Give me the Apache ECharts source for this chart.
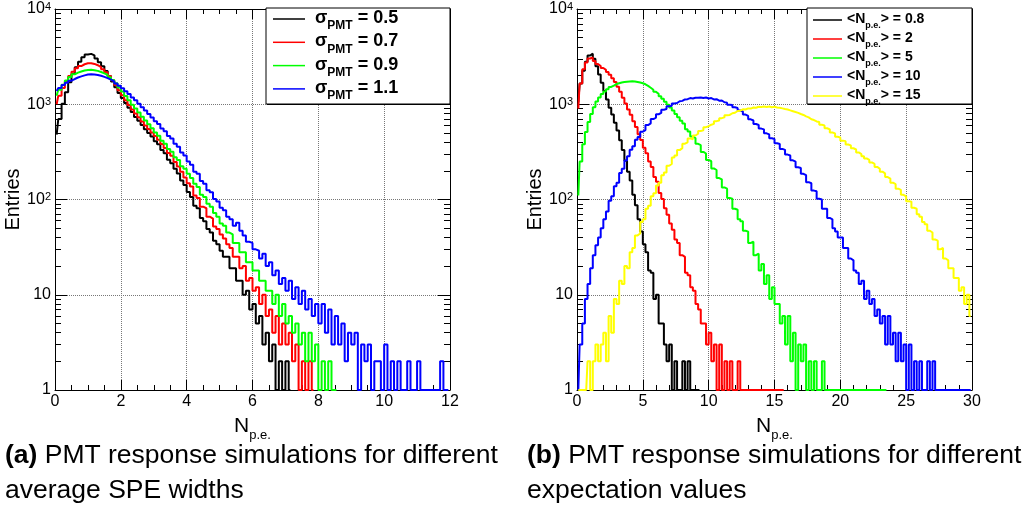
<!DOCTYPE html>
<html><head><meta charset="utf-8">
<script src="https://cdn.jsdelivr.net/npm/echarts@6/dist/echarts.min.js"></script>
<style>html,body{margin:0;padding:0;background:#fff}#c{width:1025px;height:520px}</style>
</head><body><div id="c"></div><script>
// ---------------- DATA ----------------
const LEFT_BIN = 0.1;   // N_p.e. bin width, left panel
const RIGHT_BIN = 0.2;  // N_p.e. bin width, right panel
const LEFT_NAMES = ['σPMT = 0.5', 'σPMT = 0.7', 'σPMT = 0.9', 'σPMT = 1.1'];
const RIGHT_NAMES = ['<Np.e.> = 0.8', '<Np.e.> = 2', '<Np.e.> = 5', '<Np.e.> = 10', '<Np.e.> = 15'];
const Y_MINOR = [2,3,4,5,6,7,8,9,20,30,40,50,60,70,80,90,200,300,400,500,600,700,800,900,2000,3000,4000,5000,6000,7000,8000,9000];

const sigma05 = [480,700,1010,1340,1700,2080,2450,2800,3120,3330,
 3380,3260,3020,2760,2500,2240,1980,1730,1510,1310,
 1160,1030,920,830,735,670,605,548,500,458,
 410,380,330,305,262,240,210,188,158,142,
 120,106,86,81,64,59,49,45,37,34,
 29,25,25,19,19,14,14,10,11,7,
 8,5,6,3,4,2,3,1,2,1,
 2,1];
const sigma07 = [1000,1230,1480,1730,1980,2200,2390,2520,2630,2690,
 2700,2650,2570,2460,2330,2170,1980,1790,1590,1400,
 1240,1100,985,880,800,730,660,600,550,505,
 465,425,382,348,308,288,248,222,196,170,
 148,137,110,104,84,81,66,63,52,49,
 43,39,34,31,25,25,19,20,14,15,
 11,12,8,10,6,7,4,6,3,5,
 3,4,2,3,1,2,1,2,1];
const sigma09 = [1230,1420,1600,1780,1930,2060,2150,2210,2260,2290,
 2300,2280,2240,2180,2110,2030,1920,1800,1660,1500,
 1360,1220,1100,990,900,820,740,675,615,560,
 505,468,415,386,340,318,278,260,224,210,
 186,168,146,135,112,106,90,84,72,66,
 56,53,45,43,35,35,28,28,22,22,
 18,18,14,14,11,11,8,10,6,8,
 5,6,4,5,3,4,2,4,2,3,
 1,2,1,2,1,1];
const sigma11 = [1380,1480,1590,1680,1770,1840,1910,1960,2010,2050,
 2060,2050,2030,1990,1940,1880,1810,1740,1650,1560,
 1470,1370,1280,1180,1100,1010,930,860,790,725,
 665,622,556,522,464,438,386,358,312,290,
 250,232,196,186,156,146,125,119,101,95,
 82,77,66,62,53,57,47,42,36,35,
 30,29,24,27,20,22,16,18,13,15,
 11,14,9,12,8,11,7,9,6,8,
 5,8,4,7,3,6,3,5,2,4,
 3,4,1,3,2,3,1,2,2,1,
 3,1,2,1,2,1,1,2,1,1,
 2,1,1,1,1,1,1,2,1,1];

const mean08 = [1050,1650,2250,2800,3250,3400,3000,2500,2050,1680,
 1380,1120,920,780,640,530,420,330,255,195,
 158,112,87,62,46,34,28,18,17,9,
 10,5,5,3,2,3,1,2,1,1,
 2,1,2,1,1,1,1];
const mean2 = [900,1650,2330,2750,3020,3100,2850,2640,2520,2400,
 2300,2180,2040,1880,1710,1530,1350,1170,1020,880,
 775,665,578,485,422,350,306,250,220,172,
 154,117,101,81,69,56,48,38,35,26,
 25,17,16,12,11,8,7,5,5,3,
 4,2,3,1,3,1,2,1,2,1,
 1,2,1,1,1,1,1,1,1,1,
 1,1,1,1,1,1,1,1,1];
const mean5 = [110,250,380,510,650,790,930,1070,1180,1280,
 1360,1440,1520,1570,1630,1660,1690,1710,1720,1730,
 1740,1730,1710,1690,1660,1620,1560,1490,1420,1350,
 1290,1210,1140,1060,990,925,860,790,730,670,
 628,548,518,458,442,384,372,316,304,260,
 252,212,204,168,163,134,130,104,102,80,
 78,62,59,47,46,35,36,26,27,18,
 21,13,16,9,12,8,8,5,6,3,
 6,2,4,1,3,2,3,1,2,1,
 2,1,1,2,1,1,1,1,1,1,
 1,1,1,1,1,1,1,1,1,1,
 1,1,1,1,1,1,1,1];
const mean10 = [1,3,5,9,13,19,26,33,40,50,
 62,75,97,108,138,150,190,210,256,284,
 332,362,424,452,515,535,605,630,700,725,
 785,810,875,890,950,965,1020,1030,1075,1085,
 1125,1130,1160,1150,1172,1168,1180,1162,1176,1150,
 1160,1125,1130,1090,1095,1050,1040,990,980,930,
 915,860,840,780,755,695,675,620,605,555,
 545,495,482,440,432,390,382,340,332,296,
 290,258,250,218,214,186,180,152,148,124,
 122,102,100,80,80,64,62,50,46,40,
 40,31,31,24,23,18,17,13,14,9,
 11,8,9,6,7,5,6,3,6,3,
 4,2,4,2,3,1,3,1,2,1,
 2,1,1,2,1,2,1,1,1,1,
 1,1,1,1,1,1,1,1,1,1];
const mean15 = [1,1,1,1,2,1,2,3,2,3,
 4,2,6,4,9,8,14,13,20,19,
 28,31,42,44,58,62,80,86,108,116,
 140,150,180,192,226,236,276,290,330,346,
 385,398,438,428,470,490,525,532,575,588,
 610,622,665,675,715,728,765,772,805,815,
 850,855,885,880,905,900,925,918,940,935,
 945,938,948,932,940,925,918,905,892,880,
 862,845,828,812,790,772,745,728,695,682,
 660,650,610,600,560,545,505,495,455,448,
 415,410,378,370,345,335,312,300,285,270,
 260,245,236,220,210,196,188,172,166,150,
 145,130,126,112,108,96,95,82,80,70,
 66,58,55,47,45,38,37,30,31,24,
 23,19,19,15,15,11,12,8,10,6];

const LEFT_SERIES = [sigma05, sigma07, sigma09, sigma11];
const RIGHT_SERIES = [mean08, mean2, mean5, mean10, mean15];
const LEFT_COLORS = ['#000000', '#ff0000', '#00ff00', '#0000ff'];
const RIGHT_COLORS = ['#000000', '#ff0000', '#00ff00', '#0000ff', '#ffff00'];

// ---------------- CHART ----------------
const FONT = "'Liberation Sans', Arial, Helvetica, sans-serif";
function pairs(vals, bin) { return vals.map((v, i) => [+((i + 0.5) * bin).toFixed(3), v]); }
function logLabel(v) {
  if (v === 1) return '1';
  if (v === 10) return '10';
  return '10{sup|' + Math.round(Math.log10(v)) + '}';
}
const blackLine = { color: '#000', width: 1 };

function xAxes(g, max, interval, minorSplit) {
  const common = { gridIndex: g, type: 'value', min: 0, max: max, interval: interval };
  return [
    Object.assign({}, common, {
      position: 'bottom',
      axisLine: { show: true, onZero: false, lineStyle: blackLine },
      axisTick: { show: true, inside: true, length: 10, lineStyle: blackLine },
      minorTick: { show: true, splitNumber: minorSplit, length: 5, lineStyle: blackLine },
      axisLabel: { fontSize: 16, fontFamily: FONT, color: '#000', margin: 4 },
      splitLine: { show: true, lineStyle: { type: 'dotted', color: '#777', width: 1 } },
      name: '{n|N}{s|p.e.}', nameLocation: 'middle', nameGap: 26,
      nameTextStyle: { rich: {
        n: { fontSize: 21, fontFamily: FONT, color: '#000', lineHeight: 22, verticalAlign: 'top' },
        s: { fontSize: 13, fontFamily: FONT, color: '#000', lineHeight: 13, verticalAlign: 'top', padding: [13, 0, 0, 0] }
      } }
    }),
    Object.assign({}, common, {
      position: 'top',
      axisLine: { show: true, onZero: false, lineStyle: blackLine },
      axisTick: { show: true, inside: true, length: 10, lineStyle: blackLine },
      minorTick: { show: true, splitNumber: minorSplit, length: 5, lineStyle: blackLine },
      axisLabel: { show: false }, splitLine: { show: false }
    })
  ];
}
function yAxes(g) {
  const common = { gridIndex: g, type: 'log', logBase: 10, min: 1, max: 10000 };
  return [
    Object.assign({}, common, {
      position: 'left',
      axisLine: { show: true, onZero: false, lineStyle: blackLine },
      axisTick: { show: true, inside: true, length: 12, lineStyle: blackLine },
      axisLabel: { formatter: logLabel, fontSize: 16, fontFamily: FONT, color: '#000', margin: 4,
        rich: { sup: { fontSize: 11, fontFamily: FONT, color: '#000', lineHeight: 11, verticalAlign: 'top' } } },
      splitLine: { show: true, lineStyle: { type: 'dotted', color: '#777', width: 1 } },
      name: 'Entries', nameLocation: 'middle', nameGap: 20,
      nameTextStyle: { fontSize: 20, fontFamily: FONT, color: '#000' }
    }),
    Object.assign({}, common, {
      position: 'left', axisLine: { show: false, onZero: false },
      axisTick: { show: true, inside: true, length: 6, customValues: Y_MINOR, lineStyle: blackLine },
      axisLabel: { show: false }, splitLine: { show: false }
    }),
    Object.assign({}, common, {
      position: 'right', axisLine: { show: true, onZero: false, lineStyle: blackLine },
      axisTick: { show: true, inside: true, length: 12, lineStyle: blackLine },
      axisLabel: { show: false }, splitLine: { show: false }
    }),
    Object.assign({}, common, {
      position: 'right', axisLine: { show: false, onZero: false },
      axisTick: { show: true, inside: true, length: 6, customValues: Y_MINOR, lineStyle: blackLine },
      axisLabel: { show: false }, splitLine: { show: false }
    })
  ];
}

const series = [];
LEFT_SERIES.forEach((vals, i) => series.push({
  name: LEFT_NAMES[i], type: 'line', xAxisIndex: 0, yAxisIndex: 0,
  data: pairs(vals, LEFT_BIN), step: 'middle', symbol: 'none', showSymbol: false,
  lineStyle: { color: LEFT_COLORS[i], width: 2 }, itemStyle: { color: LEFT_COLORS[i] },
  clip: true, animation: false
}));
RIGHT_SERIES.forEach((vals, i) => series.push({
  name: RIGHT_NAMES[i], type: 'line', xAxisIndex: 2, yAxisIndex: 4,
  data: pairs(vals, RIGHT_BIN), step: 'middle', symbol: 'none', showSymbol: false,
  lineStyle: { color: RIGHT_COLORS[i], width: 2 }, itemStyle: { color: RIGHT_COLORS[i] },
  clip: true, animation: false
}));

const option = {
  backgroundColor: '#fff',
  animation: false,
  grid: [
    { left: 55, top: 9, width: 395, height: 381, containLabel: false },
    { left: 577, top: 9, width: 395, height: 381, containLabel: false }
  ],
  xAxis: [].concat(xAxes(0, 12, 2, 4), xAxes(1, 30, 5, 5)),
  yAxis: [].concat(yAxes(0), yAxes(1)),
  legend: [
    {
      data: LEFT_NAMES, orient: 'vertical', left: 273, top: 9, padding: 0,
      icon: 'rect', itemWidth: 32, itemHeight: 1.5, itemGap: 0.3, selectedMode: false,
      formatter: n => '{f|σ}{s|PMT}{m|' + n.slice(4) + '}',
      textStyle: { rich: {
        f: { fontSize: 18, fontWeight: 'bold', fontFamily: FONT, color: '#000', lineHeight: 20, verticalAlign: 'top', padding: [0, 0, 0, 5] },
        s: { fontSize: 12, fontWeight: 'bold', fontFamily: FONT, color: '#000', lineHeight: 12, verticalAlign: 'top', padding: [11, 0, 0, 0] },
        m: { fontSize: 18, fontWeight: 'bold', fontFamily: FONT, color: '#000', lineHeight: 20, verticalAlign: 'top' }
      } }
    },
    {
      data: RIGHT_NAMES, orient: 'vertical', left: 813, top: 12, padding: 0,
      icon: 'rect', itemWidth: 29, itemHeight: 1.5, itemGap: 1, selectedMode: false,
      formatter: n => '{m|<N}{s|p.e.}{m|' + n.slice(6) + '}',
      textStyle: { rich: {
        s: { fontSize: 9, fontWeight: 'bold', fontFamily: FONT, color: '#000', lineHeight: 9, verticalAlign: 'top', padding: [9, 0, 0, 0] },
        m: { fontSize: 14, fontWeight: 'bold', fontFamily: FONT, color: '#000', lineHeight: 16, verticalAlign: 'top' }
      } }
    }
  ],
  graphic: [
    { type: 'rect', z: 3, shape: { x: 267, y: 9, width: 184, height: 96 }, style: { fill: '#000' } },
    { type: 'rect', z: 3, shape: { x: 266, y: 8, width: 184, height: 96 }, style: { fill: '#fff', stroke: '#000', lineWidth: 1 } },
    { type: 'rect', z: 3, shape: { x: 808, y: 9, width: 165, height: 96 }, style: { fill: '#000' } },
    { type: 'rect', z: 3, shape: { x: 807, y: 8, width: 165, height: 96 }, style: { fill: '#fff', stroke: '#000', lineWidth: 1 } },
    { type: 'text', z: 3, x: 5, y: 438, style: {
      text: '{b|(a)} PMT response simulations for different\naverage SPE widths',
      fontSize: 26.5, fontFamily: FONT, fill: '#000', lineHeight: 35, verticalAlign: 'top',
      rich: { b: { fontWeight: 'bold', fontSize: 26.5, fontFamily: FONT, lineHeight: 35 } } } },
    { type: 'text', z: 3, x: 527, y: 438, style: {
      text: '{b|(b)} PMT response simulations for different\nexpectation values',
      fontSize: 26.5, fontFamily: FONT, fill: '#000', lineHeight: 35, verticalAlign: 'top',
      rich: { b: { fontWeight: 'bold', fontSize: 26.5, fontFamily: FONT, lineHeight: 35 } } } }
  ],
  series: series
};

const chart = echarts.init(document.getElementById('c'), null, { renderer: 'canvas' });
chart.setOption(option);
</script></body></html>
